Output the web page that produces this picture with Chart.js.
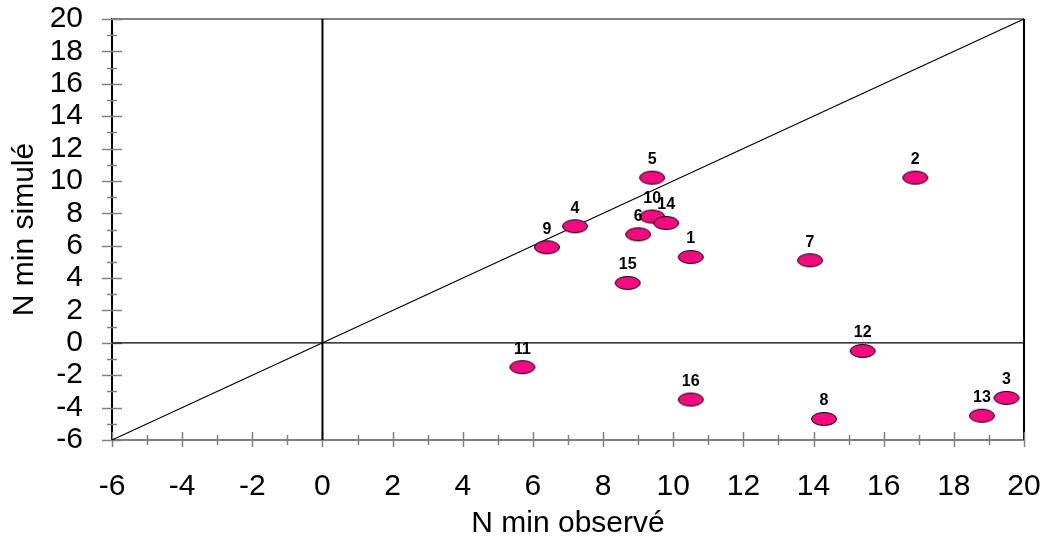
<!DOCTYPE html>
<html>
<head>
<meta charset="utf-8">
<script src="https://cdn.jsdelivr.net/npm/chart.js@4"></script>
<style>
  html, body { margin: 0; padding: 0; background: #fff; }
  #wrap { width: 1043px; height: 540px; }
</style>
</head>
<body>
<div id="wrap"><canvas id="nminChart" width="1043" height="540"></canvas></div>
<script>
const siteIds = ["1", "2", "3", "4", "5", "6", "7", "8", "9", "10", "11", "12", "13", "14", "15", "16"];
const observed = [10.5, 16.9, 19.5, 7.2, 9.4, 9.0, 13.9, 14.3, 6.4, 9.4, 5.7, 15.4, 18.8, 9.8, 8.7, 10.5];
const simulated = [5.3, 10.2, -3.4, 7.2, 10.2, 6.7, 5.1, -4.7, 5.9, 7.8, -1.5, -0.5, -4.5, 7.4, 3.7, -3.5];
const axisMin = -6;
const axisMax = 20;
const tickStep = 2;

const FONT = "'Liberation Sans', Arial, sans-serif";

// ellipse marker
const marker = document.createElement("canvas");
marker.width = 28;
marker.height = 16;
(function () {
  const c = marker.getContext("2d");
  c.beginPath();
  c.ellipse(14, 8, 12.5, 6.5, 0, 0, Math.PI * 2);
  c.fillStyle = "#f50a80";
  c.fill();
  c.lineWidth = 1;
  c.strokeStyle = "#000";
  c.stroke();
})();

const points = observed.map((x, i) => ({ x: x, y: simulated[i] }));

// frame + tick marks (major crossing at even values, minor at odd)
const framePlugin = {
  id: "frame",
  beforeDatasetsDraw(chart) {
    const { ctx, chartArea: a, scales } = chart;
    const xs = scales.x, ys = scales.y;
    ctx.save();
    ctx.lineWidth = 2;
    ctx.strokeStyle = "#808080";
    ctx.beginPath();
    ctx.moveTo(a.left, a.top);
    ctx.lineTo(a.right, a.top);
    ctx.stroke();
    ctx.strokeStyle = "#000";
    ctx.beginPath();
    ctx.moveTo(a.right, a.top);
    ctx.lineTo(a.right, a.bottom);
    ctx.stroke();

    ctx.strokeStyle = "#808080";
    ctx.lineWidth = 1.5;
    for (let v = axisMin; v <= axisMax; v++) {
      const major = v % 2 === 0;
      const px = Math.round(xs.getPixelForValue(v)) + 0.5;
      ctx.beginPath();
      if (major) {
        ctx.moveTo(px, a.bottom - 8);
        ctx.lineTo(px, a.bottom + 7);
      } else {
        ctx.moveTo(px, a.bottom - 5);
        ctx.lineTo(px, a.bottom + 5);
      }
      ctx.stroke();
      const py = Math.round(ys.getPixelForValue(v)) + 0.5;
      ctx.beginPath();
      if (major) {
        ctx.moveTo(a.left - 10, py);
        ctx.lineTo(a.left + 10, py);
      } else {
        ctx.moveTo(a.left - 5, py);
        ctx.lineTo(a.left + 5, py);
      }
      ctx.stroke();
    }
    ctx.restore();
  },
  afterDatasetsDraw(chart) {
    const { ctx } = chart;
    const meta = chart.getDatasetMeta(0);
    ctx.save();
    ctx.font = "bold 16px " + FONT;
    ctx.fillStyle = "#000";
    ctx.textAlign = "center";
    ctx.textBaseline = "middle";
    meta.data.forEach((el, i) => {
      ctx.fillText(siteIds[i], el.x, el.y - 18);
    });
    ctx.restore();
  },
};

new Chart(document.getElementById("nminChart"), {
  type: "scatter",
  data: {
    datasets: [
      {
        label: "Sites",
        data: points,
        pointStyle: marker,
        pointRadius: 8,
        pointHoverRadius: 8,
      },
      {
        label: "1:1",
        data: [{ x: axisMin, y: axisMin }, { x: axisMax, y: axisMax }],
        showLine: true,
        borderColor: "#000",
        borderWidth: 1.2,
        pointRadius: 0,
        clip: false,
      },
      {
        label: "y0",
        data: [{ x: axisMin, y: 0 }, { x: axisMax, y: 0 }],
        showLine: true,
        borderColor: "#000",
        borderWidth: 1.2,
        pointRadius: 0,
      },
      {
        label: "x0",
        data: [{ x: 0, y: axisMin }, { x: 0, y: axisMax }],
        showLine: true,
        borderColor: "#000",
        borderWidth: 2,
        pointRadius: 0,
      },
    ],
  },
  options: {
    responsive: false,
    animation: false,
    layout: { padding: { top: 19, right: 19, left: 0, bottom: 0 } },
    plugins: {
      legend: { display: false },
      tooltip: { enabled: false },
    },
    scales: {
      x: {
        type: "linear",
        min: axisMin,
        max: axisMax,
        afterFit(scale) {
          scale.height = 100;
          scale.paddingLeft = 0;
          scale.paddingRight = 0;
        },
        ticks: {
          stepSize: tickStep,
          autoSkip: false,
          padding: 29,
          color: "#000",
          font: { family: FONT, size: 30 },
          maxRotation: 0,
        },
        grid: { display: false, drawTicks: false },
        border: { display: true, color: "#808080", width: 2 },
        title: {
          display: true,
          text: "N min observé",
          color: "#000",
          font: { family: FONT, size: 30, lineHeight: 1 },
          padding: { top: 0, bottom: 1 },
        },
      },
      y: {
        type: "linear",
        min: axisMin,
        max: axisMax,
        afterFit(scale) {
          scale.width = 112;
          scale.paddingTop = 0;
          scale.paddingBottom = 0;
        },
        ticks: {
          stepSize: tickStep,
          autoSkip: false,
          padding: 29,
          color: "#000",
          font: { family: FONT, size: 30, lineHeight: 1 },
        },
        grid: { display: false, drawTicks: false },
        border: { display: true, color: "#000", width: 2 },
        title: {
          display: true,
          text: "N min simulé",
          color: "#000",
          font: { family: FONT, size: 30, lineHeight: 1 },
          padding: { top: 10, bottom: 0 },
        },
      },
    },
  },
  plugins: [framePlugin],
});
</script>
</body>
</html>
